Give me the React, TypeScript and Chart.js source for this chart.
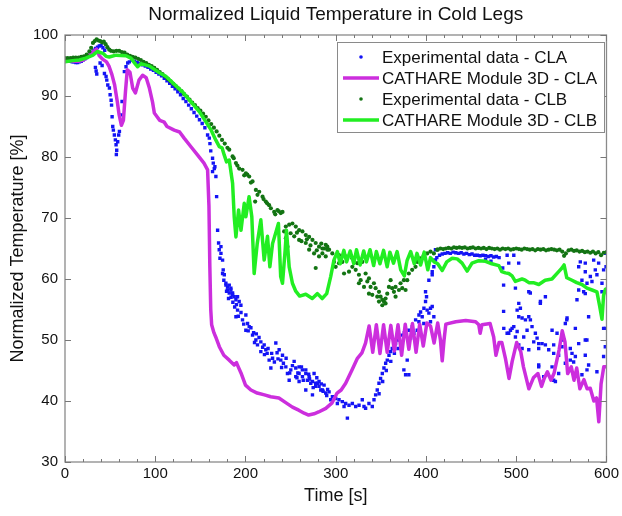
import React, { useEffect, useRef } from 'react';
import { Chart, registerables } from 'chart.js';

Chart.register(...registerables);

const chartTitle = 'Normalized Liquid Temperature in Cold Legs';
const xTitle = 'Time [s]';
const yTitle = 'Normalized Temperature [%]';
const xRange = [0, 600];
const yRange = [30, 100];
const xStep = 100;
const xMinorStep = 20;
const yStep = 10;

const seriesLabels = [
  'Experimental data - CLA',
  'CATHARE Module 3D - CLA',
  'Experimental data - CLB',
  'CATHARE Module 3D - CLB',
];

// [time s, normalized temperature %]
const expCLA: [number, number][] = [
  [0,95.8],[2,95.8],[4,95.7],[6,95.7],[8,95.6],[10,95.6],[12,95.5],[14,95.5],[16,95.6],[18,95.7],[20,95.9],[22,96.1],[24,96.3],[26,96.6],[28,96.9],[30,97.2],[32,97.5],[34,97.8],[36,98],[38,98.2],[40,98.3],[42,97.9],[44,97.5],
  [33.7,94.7],[34.5,94.1],[35.2,93.6],[38.9,95.4],[41.1,95],[43.7,93.7],[45.5,93.2],[46.3,92.6],[47.4,91.8],[49.2,91.3],[50,90.2],[51.1,89.3],[51.6,88.5],[52.2,86.6],[52.9,85],[53.6,84.4],[54.7,83.6],[55.8,82.8],[56.6,82],[57.3,81.1],[56.9,80.4],[58.4,82.5],[59.5,83.6],[60.3,84.2],[62.1,86.9],[63.2,89.1],[65.8,94],[67.6,94.8],[69.5,95.4],[71.3,95.6],
  [74,95.9],[77,95.7],[80,95.5],[83,95.3],[86,95.1],[89,94.9],[92,94.7],[95,94.4],[98,94.2],[101,93.9],[104,93.6],[107,93.3],[110,92.9],[113,92.5],[116,92.1],[119,91.6],[122,91.2],[125,90.7],[128,90.2],[131,89.6],[134,89.1],[137,88.5],[140,87.9],[143,87.3],[146,86.7],[149,86.1],[152,85.5],[155,84.8],
  [158,83.6],[159.9,83.1],[160.6,82.2],[161.5,81],[163.5,79.8],[164.3,79],[165.4,78.1],[163.5,77.6],[166.1,78.4],[167.2,76.8],[168,73.5],[169.1,68],[170.2,65.9],[172.8,65.3],[170.9,64.8],[172.8,64.2],[171.7,63.4],[174.6,63.1],[174.6,60.9],[175.3,61.5],[176.5,60.7],[178.3,59.3],[178.3,59],[180.1,58.7],[180.1,58.2],[182,59],[182,57.7],[183.8,58.2],[183.8,58.5],[185.7,57.7],[185.7,57.4],[187.5,57.1],[181.2,56.8],[189.4,56.6],[191.2,57.1],[193,56.3],[194.9,55.7],[191.2,54.9],[189.4,53.8],[196.7,53.3],[200.4,54.1],[202.3,52.7],[204.1,52.2],[200.4,51.6],[207.8,50.8],[211.5,50],[213.3,49.2],[217,49.7],[220.7,49.2],[222.5,48.4],[217,48.1],[226.2,46.7],[228.1,45.4],[233.6,49.5],[237.3,48.4],[241,47.5],[239.1,46.7],[244.7,45.6],[246.5,44.5],[250.2,45.1],[253.9,46.5],[255.7,45.4],[259.4,44.5],[263.1,44],[266.8,45.1],[268.6,43.4],[272.3,42.9],[276,44.5],[277.8,42.4],[281.5,43.2],[283.4,41.8],[287.1,42.6],[288.9,41.3],[274.2,41],[259.4,43.2],[248.4,43.4],[255.7,44],[266.8,41.8],
  [209,51.2],[215,50.4],[224,47.8],[230,47],[235,47.9],[242,46.2],[257,43.8],[262,45.6],[270,44.4],[279,43.8],[284,42.8],[291,41.9],
  [176,59.8],[179,58],[184,57],[186,56.2],[188,55.4],[190,55.8],[192,53.9],[195,54.5],[198,52.6],[203,51.5],[206,52],[210,49.6],[212,51],[219,48.8],[221,47.6],[225,48.6],[229,47.8],[232,46.4],[236,46.9],[240,45.5],[245,47],[249,44.6],[252,45.8],[258,44.6],[264,43.4],[271,43.6],[275,42.2],[280,42.9],[286,41.6],[290,40.9],
  [259.4,45.6],[263,45.1],[266.8,44.5],[270.5,44],[274.2,43.2],[277.8,42.9],[281.5,42.4],[285.2,41.8],[292.6,41.5],[294.4,40.2],[296.3,40.7],[300,40.4],[301.8,39.6],[303.6,40.2],[307.3,39.9],[309.2,39.1],[311,39.6],[312.9,37.2],[314.7,39.3],[318.4,39.6],[322.1,39.1],[325.8,39.3],[329.4,40.2],[331.3,39.1],[333.1,38.8],[336.8,39.6],[340.5,39.1],[342.4,40.2],
  [344.2,41],[346,41.8],[347.9,42.9],[349.7,43.7],[351.6,44.5],[353.4,45.4],[355.3,46.2],[357.1,46.7],[359,47.5],[360.8,48.1],[362.6,48.6],[364.5,49.2],[366.3,49.4],[368.2,50],[370,50.5],[373.7,50.8],[375.5,45.1],[377.4,44.3],[381,44.3],[379.2,46.7],[381,51.6],[384.8,52.2],[386.6,51.1],[388.5,53.3],[390.3,51.6],[392.2,54.1],[394,54.6],[395.8,53.8],[397.7,55.2],[399.5,57.9],[400.6,57.1],[403.2,59.8],[405,55.2],[406.9,61.2],[408.7,62],[410.5,63.1],[399.5,56.3],[401.3,54.9],[406.9,55.5],[403.2,54.4],[408.7,53.8],[392.1,53],[397.6,52.7],[405,53],[406.9,60.7],[408.7,63.1],[410.5,64.8],
  [348,41.2],[352,43.2],[356,45],[361,46.5],[365,47.8],[369,48.6],[372,49.6],[376,51.2],[383,50.3],
  [412,63.5],[415,63.9],[418,64.1],[421,64.2],[424,64.3],[427,64.2],[430,64.4],[433,64.3],[436,64.2],[439,64.3],[442,64.1],[445,64.2],[448,64],[451,64.1],[454,63.9],[457,63.9],[460,63.8],[463,63.9],[466,63.8],[469,63.7],[472,63.8],[475,63.6],[478,63.7],[481,63.5],[466,63.2],[472,62.9],[485,61.8],
  [489.9,63.9],[491.7,62.6],[497.3,63.9],[499.1,58.5],[513.9,57.9],[502.8,56],[504.6,55.2],[501,54.9],[526.8,56.3],[532.3,57.1],[486.2,51.9],[489.9,51.1],[493.6,51.6],[497.3,52.2],[501,51.4],[499.1,50.5],[502.8,53.8],[506.5,53.6],[510.2,53.3],[513.9,53.8],[515.7,53.3],[517.5,52.2],[512,51.6],[508.3,50.5],[521.2,51.1],[523.1,50.3],[519.4,49.7],[524.9,49.4],[528.6,49.4],[524.9,48.6],[532.3,49.2],[536,48.4],[541.5,49.2],[539.7,51.6],[545.2,51.1],[541.5,47.8],[547,47.5],[552.6,50],[554.4,52.7],[556.3,53.6],[550.7,48.9],[559.9,48.6],[561.8,47.8],[565.5,47.3],[563.6,46.4],[559.9,46.7],[554.4,46.2],[569.2,49.4],[576.5,50],[576.5,47.5],[580.2,45.9],[578.4,45.1],[572.8,44.3],[524.9,45.9],[530.4,44],[539.7,45.6],[543.4,43.2],[547,44.5],[506.5,48.6],[513.9,48.4],[502.8,49.2],[565.5,51.9],[567.3,56.6],[580.2,53.8],[598.7,51.9],[598.7,48.9],[596.8,47.3],[595,57.9],[589.4,60.7],[591.3,62.6],[585.8,63.1],[576.5,62.6],[571,62.8],[569.2,62],[576.5,61.2],[582.1,60.4],[587.6,61.5],[583.9,59.6],[595,59.3],[596.8,61.5],[599.5,62],[578.4,59.3],[572.8,59.8],[569.2,58.2],[574.7,57.9],[576.5,57.6],[598.7,64.2],
  [502.7,62.6],[486,59],[515.6,57.7],[526.7,56],[486,54.7],[495.4,51.9],[491.7,51.1],[556,53.3],[578.3,50],[596.8,51.9],[589.4,44.8],[541.5,43.4],[524.9,45.6],
];

const cathareCLA: [number, number][] = [
  [0,95.9],[5,95.8],[10,95.7],[15,95.7],[20,95.9],[25,96.4],[30,97.1],[35,97.7],[38,96.6],[42,96],[46,95.6],[49,94.8],[52,93.5],[55,91.8],[58,89],[60,86.9],[62.5,85.2],[64.7,86],[67,90.7],[69,94.3],[72,93.9],[75,91.3],[78,90.5],[82,92.6],[86,93.4],[90,93],[93.5,91.3],[97,89],[99,87.2],[102,86.6],[105,86],[110,85.7],[113,85],[121,84.4],[127,84.1],[132,83.1],[140,81.6],[147,80.3],[154,79],[158,77.9],[159.5,72],[160.5,62],[161.5,55],[162.5,52.5],[165,51.2],[167,50.5],[171,48.9],[176,47.5],[182,46.7],[187.5,45.9],[190,46.3],[192,45.6],[195,44.6],[200,42.6],[206,41.8],[213,41.3],[221,41],[228,40.7],[237,40.5],[245,39.7],[252,39],[259,38.5],[265,38],[270,37.7],[276,37.9],[281,38.2],[289,38.8],[296,39.7],[301.5,41.3],[306,41.8],[311,42.9],[318,45.1],[324,47],[329,47.9],[333,49.5],[337,52.3],[341,48],[345,52.5],[349,47.8],[353,52.5],[357,48],[361,52.4],[365,48.2],[369,52.5],[373,47.5],[377,52.6],[381,48.5],[385,52.7],[389,48],[393,52.6],[397,49],[401,52.8],[405,52.3],[409,49.5],[413,52.8],[416,50],[418,46.6],[420,50],[422,52.6],[433,53],[444,53.2],[455,53],[458.5,52.5],[460,51.1],[462,52.5],[471,52.7],[475,50.5],[477.5,47.5],[481,49.6],[484,49.6],[488,47],[492,43.7],[495.5,46.5],[500.5,49.6],[505,48.1],[508,45.6],[514,42],[519,43.8],[524,44.5],[528,42.4],[531,43.7],[534.5,44.8],[538.5,43.4],[542,44.6],[547.5,48.4],[551,51.5],[554,49.7],[557,44.5],[561,45.6],[564,43.4],[567,45.4],[570.5,42],[575,43.5],[578.5,42],[582,42.1],[586,40],[589,40.5],[591.5,36.6],[594,42.8],[597,45.6],[600,45.6],
];

const expCLB: [number, number][] = [
  [0,96.2],[3,96.2],[6,96.2],[9,96.3],[12,96.3],[15,96.3],[18,96.4],[21,96.5],[24,96.8],[27,97.3],[29,97.9],[31,98.7],[33,99],[35,99.3],[37,99.1],[39,99],[41,98.8],[43,98.9],[45,98.5],[47,98],[49,97.6],[51,97.4],[54,97.3],[57,97.4],[60,97.4],[63,97.2],[66,97.1],[69,96.8],[72,96.6],[75,96.4],[78,96.3],[81,96.1],[84,95.9],[87,95.6],[90,95.4],[93,95.1],[96,94.9],[99,94.6],[102,94.3],[105,93.9],[108,93.6],[111,93.2],[114,92.8],[117,92.4],[120,92],[123,91.6],[126,91.2],[129,90.8],[132,90.3],[135,89.9],[138,89.4],[141,88.9],[144,88.5],[147,88],[150,87.6],[153,87.1],[156,86.6],[159,86],[162,85.4],[165,84.8],[168,84.2],[171,83.5],[174,82.8],[177,82.2],[180,81.5],
  [182,81.2],[185.7,80.1],[189.4,79],[193,78.1],[196.7,77.9],[198.6,77],[200.4,77.3],[204.1,76.8],[207.8,76],[211.5,74.6],[215.2,74.3],[213.3,73.8],[210.7,72.7],[218.9,73.5],[222.5,72.7],[226.2,72.1],[228.1,71.6],[231.8,71],[235.4,71.3],[239.1,70.8],[241,71],[244.7,68.6],[248.4,68.9],[252,69.1],[255.7,68.6],[259.4,68],[263.1,67.8],[266.8,67.2],[270.5,66.9],[274.2,66.4],[277.8,65.9],[281.5,65.3],[287.1,65],[290.7,64.8],[277.8,61.8],[246.5,65.3],[244.7,66.7],[242.8,67.8],[259.4,66.4],[266.8,65.9],[270.5,64.8],[276,64.2],[281.5,63.7],[285.2,64.2],[288.9,63.7],[290.7,65.3],
  [187,79.8],[191,78.6],[202,77.1],[206,75.8],[220,73.1],[224,72.4],[233,70.6],[237,71.1],[250,67.5],[254,67],[257,67.6],[262,66.2],[268,66.5],[272,65.5],[279,64.7],[284,65.8],
  [285.2,65],[288.9,65.6],[292.6,64.8],[296.2,64.2],[299.9,62],[298.1,62.8],[303.6,62.6],[307.3,62.8],[309.2,60.9],[314.7,61.2],[318.4,62],[322.1,61.5],[325.7,60.7],[327.6,59.8],[333.1,60.9],[335,59.6],[336.8,60.1],[338.6,58.7],[342.3,59.3],[344.2,58.5],[347.9,57.9],[349.7,57.1],[351.6,56.6],[353.4,56.3],[355.2,56.8],[357.1,57.6],[358.9,58.7],[360.8,59.8],[362.6,58.5],[364.5,57.9],[366.3,58.7],[370,58.2],[371.8,59.3],[373.7,58.5],[375.5,59.8],[377.4,58.2],[379.2,59.8],[381,60.9],[384.7,61.5],[388.4,62],[390.3,62.8],[394,63.4],[397.6,63.9],[401.3,64.2],[405,64.5],[408.7,64.2],[412.4,64.8],[311,63.7],[318.4,63.4],[303.6,63.9],[329.4,62.8],[323.9,62.6],[340.5,57.4],[346,57.1],[331.3,58.7],[325.7,59.3],[336.8,57.6],[366.3,57.1],[355.2,56],[347.9,56.3],[351.6,55.7],
  [413,64.8],[416,65],[419,64.9],[422,65],[425,65.1],[428,65],[431,65.2],[434,65.1],[437,65.2],[440,65.1],[443,65.2],[446,65],[449,65.1],[452,65.2],[455,65],[458,65.1],[461,65],[464,65.1],[467,64.9],[470,65.1],[473,65],[476,64.9],[479,65],[482,64.8],[485,65],[488,64.9],[491,65],[494,64.8],[497,64.9],[500,65],[503,64.9],[506,64.8],[509,65],[512,64.9],[515,64.8],[518,64.9],[521,64.7],[524,64.9],[527,64.8],[530,64.9],[533,64.7],[536,64.8],[539,64.9],[542,64.8],[545,64.7],[548,64.8],[551,64.5],[553,63.8],[555,64.2],[558,64.7],[561,64.8],[564,64.6],[567,64.7],[570,64.5],[573,64.6],[576,64.4],[579,64.5],[582,64.3],[585,64.5],[588,64.2],[591,64.4],[594,63.9],[597,64.3],[600,64.4],
];

const cathareCLB: [number, number][] = [
  [0,95.6],[8.6,95.8],[16,95.9],[23,96.2],[31,96.7],[36,97.3],[42,97],[45.5,96.5],[49,96.4],[56.6,96.7],[67.6,96.6],[73,96.2],[78.7,95.1],[80.5,94.8],[84,95.3],[93.5,94.9],[104.5,93.8],[112,93.2],[130,90.7],[149,87.4],[162,84.4],[167,82.8],[171,81.7],[174,81.5],[176.5,80.3],[179,79.2],[182,79.5],[185.7,75.7],[187.5,70.2],[189.4,66.9],[192.3,71.3],[195,68],[198.6,72.4],[200.4,70.2],[204,73.5],[207,70.2],[209.6,60.9],[213,65.8],[217,69.7],[220.7,63.1],[224.4,67],[227,62],[230,65.8],[236.5,69.1],[239,60.4],[241,59.3],[244,64.8],[245.4,68],[248.4,62],[252,59.3],[255.7,58],[260,57.2],[266.8,57.5],[274,56.8],[279.7,57.6],[285,56.8],[290,57.6],[294.4,60.4],[298,63.1],[301.8,64.5],
  [305,62.5],[309,64.7],[312,62.8],[316,64.6],[320,62.5],[323,64.8],[327,62.3],[331,64.6],[334,62.8],[338,64.8],[342,62.2],[345,64.5],[349,62.5],[353,64.7],[357,62],[360,64.4],[364,62.6],[368,64.5],[372,61.5],[376,60.5],[379,63],[383,64.5],[387,62.5],[390,64.2],[394,62.3],[398,64.4],[402,61.5],[405,63.5],[409,62.8],[413,62.5],
  [418,61.4],[423,62.8],[429,63.4],[434.6,63.3],[440,62.6],[445.6,61.3],[451,62.6],[458.5,63],[466,62.9],[473,62.5],[480.7,62.2],[484,61.2],[488,61],[491.7,60.9],[495.4,60.5],[499,59.6],[502.8,59.8],[506.4,60],[510,59.8],[514,59.4],[519,59.4],[525,59.1],[532,59.8],[539.6,60],[547,61.2],[550.7,61.8],[553,62.3],[556,60.2],[561.8,59.8],[567,59.4],[572.8,59.1],[578.4,58.5],[584,58.2],[589.4,57.9],[592.4,55.6],[595,53.4],[596.8,57.3],[598.7,58.3],[600,58.4],
];

const colors = {
  expCLA: '#1414f5',
  cathareCLA: '#cc2edd',
  expCLB: '#137413',
  cathareCLB: '#22ee22',
};

const FONT = "'Liberation Sans', Arial, Helvetica, sans-serif";

export default function App() {
  const ref = useRef<HTMLCanvasElement>(null);

  useEffect(() => {
    const canvas = ref.current;
    if (!canvas) return;
    const toXY = (a: [number, number][]) => a.map(([x, y]) => ({ x, y }));

    const frameTicks = {
      id: 'frameTicks',
      afterDatasetsDraw(chart: any) {
        const { ctx, chartArea, scales } = chart;
        const { left, right, top, bottom } = chartArea;
        const xs = scales.x;
        const ys = scales.y;
        ctx.save();
        ctx.strokeStyle = '#8a8a8a';
        ctx.lineWidth = 1.3;
        ctx.strokeRect(left, top, right - left, bottom - top);
        ctx.strokeStyle = '#777';
        ctx.lineWidth = 1;
        ctx.beginPath();
        for (let v = xRange[0]; v <= xRange[1]; v += xMinorStep) {
          const px = Math.round(xs.getPixelForValue(v)) + 0.5;
          const len = v % xStep === 0 ? 6 : 3;
          ctx.moveTo(px, bottom);
          ctx.lineTo(px, bottom - len);
          ctx.moveTo(px, top);
          ctx.lineTo(px, top + len);
        }
        for (let v = yRange[0]; v <= yRange[1]; v += yStep) {
          const py = Math.round(ys.getPixelForValue(v)) + 0.5;
          ctx.moveTo(left, py);
          ctx.lineTo(left + 6, py);
          ctx.moveTo(right, py);
          ctx.lineTo(right - 6, py);
        }
        ctx.stroke();
        ctx.restore();
      },
    };

    const boxLegend = {
      id: 'boxLegend',
      afterDraw(chart: any) {
        const { ctx } = chart;
        const bx = 337, by = 42, bw = 267, bh = 90;
        ctx.save();
        ctx.fillStyle = '#ffffff';
        ctx.fillRect(bx, by, bw, bh);
        ctx.strokeStyle = '#8a8a8a';
        ctx.lineWidth = 1;
        ctx.strokeRect(bx + 0.5, by + 0.5, bw, bh);
        ctx.font = `17px ${FONT}`;
        ctx.textBaseline = 'middle';
        ctx.textAlign = 'left';
        const ds = chart.data.datasets;
        const legendOrder = [0, 1, 2, 3];
        legendOrder.forEach((i, row) => {
          const d = ds[i];
          const cy = by + 15 + row * 21;
          if (d.showLine) {
            ctx.strokeStyle = d.borderColor;
            ctx.lineWidth = 3.5;
            ctx.beginPath();
            ctx.moveTo(343, cy);
            ctx.lineTo(379, cy);
            ctx.stroke();
          } else {
            ctx.fillStyle = d.pointBackgroundColor;
            ctx.beginPath();
            ctx.arc(361, cy, 1.8, 0, Math.PI * 2);
            ctx.fill();
          }
          ctx.fillStyle = '#111';
          ctx.fillText(d.label, 382, cy + 1);
        });
        ctx.restore();
      },
    };

    const chart = new Chart(canvas, {
      type: 'scatter',
      data: {
        datasets: [
          {
            label: seriesLabels[0],
            data: toXY(expCLA),
            showLine: false,
            pointStyle: 'rect',
            pointRadius: 2.4,
            pointBorderWidth: 0,
            pointBackgroundColor: colors.expCLA,
            borderColor: colors.expCLA,
            order: 4,
          },
          {
            label: seriesLabels[1],
            data: toXY(cathareCLA),
            showLine: true,
            borderColor: colors.cathareCLA,
            borderWidth: 3.5,
            borderJoinStyle: 'round',
            borderCapStyle: 'round',
            pointRadius: 0,
            tension: 0,
            order: 3,
          },
          {
            label: seriesLabels[2],
            data: toXY(expCLB),
            showLine: false,
            pointStyle: 'circle',
            pointRadius: 2.1,
            pointBorderWidth: 0,
            pointBackgroundColor: colors.expCLB,
            borderColor: colors.expCLB,
            order: 2,
          },
          {
            label: seriesLabels[3],
            data: toXY(cathareCLB),
            showLine: true,
            borderColor: colors.cathareCLB,
            borderWidth: 3.5,
            borderJoinStyle: 'round',
            borderCapStyle: 'round',
            pointRadius: 0,
            tension: 0,
            order: 1,
          },
        ] as any,
      },
      options: {
        animation: false,
        responsive: false,
        maintainAspectRatio: false,
        events: [],
        layout: { padding: { left: 0, right: 14, top: 0, bottom: 0 } },
        plugins: {
          legend: { display: false },
          tooltip: { enabled: false },
          title: {
            display: true,
            fullSize: false,
            text: chartTitle,
            color: '#111',
            font: { family: FONT, size: 19, weight: 'normal' as any, lineHeight: 1.2 },
            padding: { top: 3, bottom: 9.2 },
          },
        },
        scales: {
          x: {
            type: 'linear',
            min: xRange[0],
            max: xRange[1],
            grid: { display: false, drawTicks: false },
            border: { display: false },
            ticks: {
              stepSize: xStep,
              padding: 3,
              color: '#111',
              font: { family: FONT, size: 15 },
              maxRotation: 0,
            },
            title: {
              display: true,
              text: xTitle,
              color: '#111',
              font: { family: FONT, size: 18, lineHeight: 1.2 },
              padding: { top: 0, bottom: 9 },
            },
            afterFit: (s: any) => { s.height = 54; },
          },
          y: {
            type: 'linear',
            min: yRange[0],
            max: yRange[1],
            grid: { display: false, drawTicks: false },
            border: { display: false },
            ticks: {
              stepSize: yStep,
              padding: 7,
              color: '#111',
              font: { family: FONT, size: 15 },
            },
            title: {
              display: true,
              text: yTitle,
              color: '#111',
              font: { family: FONT, size: 18, lineHeight: 1.2 },
              padding: { top: 7, bottom: 0 },
            },
            afterFit: (s: any) => { s.width = 65; },
          },
        },
      },
      plugins: [frameTicks, boxLegend],
    });

    return () => chart.destroy();
  }, []);

  return (
    <div style={{ position: 'absolute', left: 0, top: 0, width: 622, height: 516, background: '#fff' }}>
      <canvas ref={ref} width={622} height={516} style={{ display: 'block', width: 622, height: 516 }} />
    </div>
  );
}
